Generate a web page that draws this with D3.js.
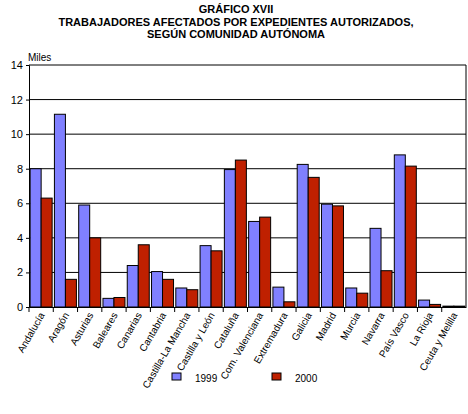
<!DOCTYPE html><html><head><meta charset="utf-8"><script src="https://cdn.jsdelivr.net/npm/d3@7"></script>
<style>body{margin:0;background:#fff}text{font-family:"Liberation Sans",Arial,sans-serif}</style></head><body>
<svg id="c" width="468" height="414"></svg>
<script>
const categories=["Andalucía","Aragón","Asturias","Baleares","Canarias","Cantabria","Castilla-La Mancha","Castilla y León","Cataluña","Com. Valenciana","Extremadura","Galicia","Madrid","Murcia","Navarra","País Vasco","La Rioja","Ceuta y Melilla"];
const v1999=[8.0,11.15,5.9,0.5,2.4,2.05,1.1,3.55,7.95,4.95,1.15,8.25,5.95,1.1,4.55,8.8,0.4,0.05];
const v2000=[6.3,1.6,4.0,0.55,3.6,1.6,1.0,3.25,8.5,5.2,0.3,7.5,5.85,0.8,2.1,8.15,0.15,0.05];
const yTicks=[0,2,4,6,8,10,12,14];
const series=[{name:"1999",vals:v1999,color:"#8080ff"},{name:"2000",vals:v2000,color:"#bf2000"}];
const svg=d3.select("#c");
const L=29,R=466,T=65,B=307;
const x=d3.scaleBand().domain(categories).range([L,R]);
const y=d3.scaleLinear().domain([0,14]).range([B,T]);
const t=svg.append("g").attr("font-weight","bold").attr("font-size",11).attr("text-anchor","middle");
["GRÁFICO XVII","TRABAJADORES AFECTADOS  POR EXPEDIENTES AUTORIZADOS,","SEGÚN COMUNIDAD AUTÓNOMA"].forEach((s,i)=>t.append("text").attr("x",236).attr("y",13+i*12.5).text(s));
svg.append("text").attr("x",28).attr("y",61).attr("font-size",10).text("Miles");
svg.append("g").selectAll("line").data(yTicks.slice(1)).join("line").attr("x1",L).attr("x2",R).attr("y1",d=>y(d)).attr("y2",d=>y(d)).attr("stroke","#000");
svg.append("line").attr("x1",R).attr("x2",R).attr("y1",T).attr("y2",B).attr("stroke","#000");
const yA=svg.append("g").attr("transform",`translate(${L},0)`).call(d3.axisLeft(y).tickValues(yTicks).tickSize(3).tickFormat(d3.format("d")));
yA.selectAll("text").attr("font-size",11).attr("fill","#000");
yA.select(".domain").attr("stroke","#000");
const bw=11;
series.forEach((s,si)=>{
 svg.append("g").selectAll("rect").data(categories).join("rect")
 .attr("x",(d,i)=>x(d)+x.bandwidth()/2-bw+si*bw).attr("width",bw)
 .attr("y",(d,i)=>y(s.vals[i])).attr("height",(d,i)=>B-y(s.vals[i]))
 .attr("fill",s.color).attr("stroke","#000").attr("stroke-width",1);
});
const xA=svg.append("g").attr("transform",`translate(0,${B})`).call(d3.axisBottom(x).tickSize(5).tickSizeOuter(0).tickFormat(""));
xA.selectAll(".tick").attr("transform",d=>`translate(${x(d)},0)`);
xA.select(".domain").attr("stroke","#000");
svg.append("g").selectAll("text").data(categories).join("text")
 .attr("transform",d=>`translate(${x(d)+x.bandwidth()/2+4},${B+8}) rotate(-60)`)
 .attr("text-anchor","end").attr("font-size",10).text(d=>d);
const lg=svg.append("g");
series.forEach((s,i)=>{
 const lx=172+i*100;
 lg.append("rect").attr("x",lx).attr("y",373).attr("width",9).attr("height",7).attr("fill",s.color).attr("stroke","#000");
 lg.append("text").attr("x",lx+23).attr("y",382).attr("font-size",10).text(s.name);
});
</script></body></html>
